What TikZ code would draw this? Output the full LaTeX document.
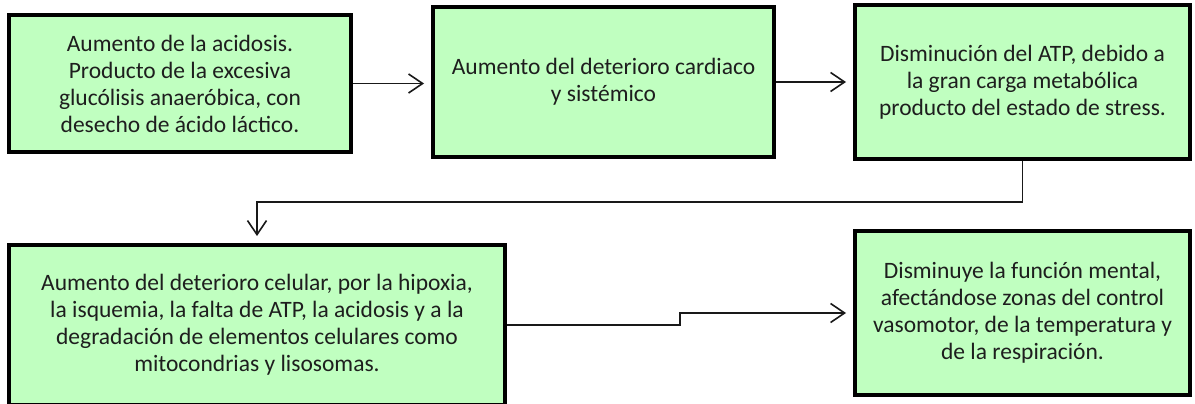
\documentclass[tikz,border=0pt]{standalone}
\usepackage{fontspec}
\setmainfont{Carlito}
\usetikzlibrary{arrows.meta}
\definecolor{boxfill}{RGB}{192,255,192}
\definecolor{txt}{RGB}{30,30,30}
\definecolor{conn}{RGB}{25,25,25}
\begin{document}
\begin{tikzpicture}[x=1pt,y=-1pt,
  box/.style={draw=black,line width=4pt,fill=boxfill,rectangle,align=center,
    text=txt,inner sep=0pt,font=\fontsize{23.5}{27}\selectfont},
  arr/.style={draw=conn,line width=1.6pt,
    -{Straight Barb[length=14pt,width=19pt,line width=1.6pt]},shorten >=7pt}]
\useasboundingbox (0,0) rectangle (1195,404);
\fill[white] (0,0) rectangle (1195,404);
\begin{scope}
\clip (0,0) rectangle (1195,404);
\node[box,minimum width=342pt,minimum height=137pt] (b1) at (180,83.5)
  {Aumento de la acidosis.\\Producto de la excesiva\\glucólisis anaeróbica, con\\desecho de ácido láctico.};
\node[box,minimum width=341pt,minimum height=150pt] (b2) at (603.5,82)
  {Aumento del deterioro cardiaco\\y sistémico};
\node[box,minimum width=335pt,minimum height=154pt] (b3) at (1022.5,82)
  {Disminución del ATP, debido a\\la gran carga metabólica\\producto del estado de stress.};
\node[box,minimum width=496pt,minimum height=160pt] (b4) at (257,325)
  {Aumento del deterioro celular, por la hipoxia,\\la isquemia, la falta de ATP, la acidosis y a la\\degradación de elementos celulares como\\mitocondrias y lisosomas.};
\node[box,minimum width=335pt,minimum height=164pt] (b5) at (1022.5,313)
  {Disminuye la función mental,\\afectándose zonas del control\\vasomotor, de la temperatura y\\de la respiración.};
\end{scope}
\coordinate (j1) at (1024,202);
\coordinate (s1) at (680,0);
\draw[arr] (b1.east) -- (b1.east -| b2.west);
\draw[arr] (b2.east) -- (b2.east -| b3.west);
\draw[arr] (b3.south) -- (b3.south |- j1) -| (b4.north);
\draw[arr] (b4.east) -- (b4.east -| s1) -- (s1 |- b5.west) -- (b5.west);
\end{tikzpicture}
\end{document}
